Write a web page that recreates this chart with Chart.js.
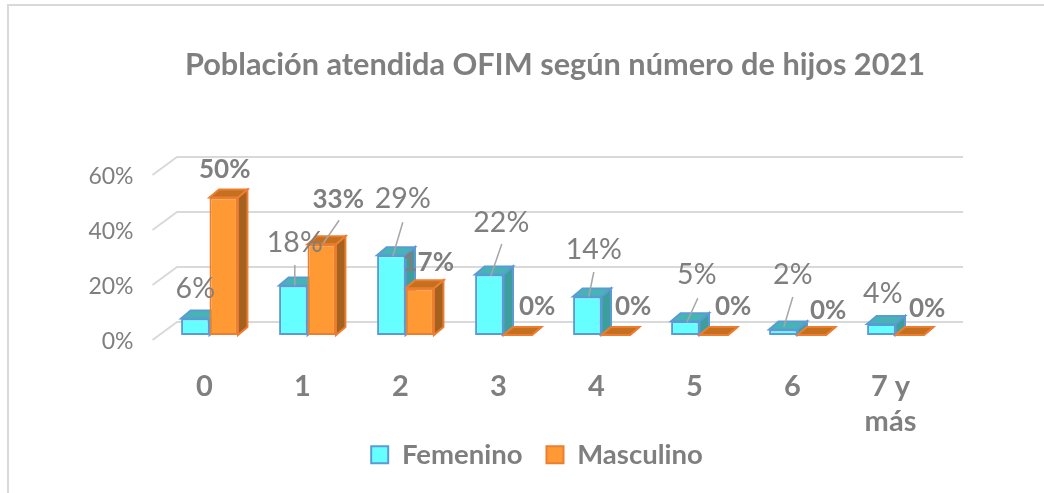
<!DOCTYPE html>
<html>
<head>
<meta charset="utf-8">
<title>Población atendida OFIM</title>
<script src="https://cdn.jsdelivr.net/npm/chart.js@4/dist/chart.umd.js"></script>
<style>
    html, body { margin: 0; padding: 0; background: #fff; overflow: hidden; }
    #frame { position: absolute; left: 7px; top: 4px; width: 1037px; height: 489px; border-left: 2px solid #d9d9d9; border-top: 2px solid #d9d9d9; }
    #chart { position: absolute; left: 0; top: 0; }
</style>
</head>
<body>
<div id="frame"></div>
<canvas id="chart" width="1044" height="493"></canvas>
<script>
    // Data
    const categories = ['0', '1', '2', '3', '4', '5', '6', ['7 y', 'más']];
    const femenino = [6, 18, 29, 22, 14, 5, 2, 4];
    const masculino = [50, 33, 17, 0, 0, 0, 0, 0];
    const yTicks = [0, 20, 40, 60];

    // Hand placed data labels, relative to the top centre of each bar
    const femLabelPos = [[0, -30], [1.5, -42.5], [11.5, -56], [12, -52], [6.5, -47], [11.5, -46], [9.5, -54.5], [1.5, -30]];
    const mascLabelPos = [[1, -27.5], [16.5, -45], [8.5, -26], [19.5, -28], [17.5, -28], [19.5, -28], [16.5, -24], [17.5, -26]];
    // Leader lines: x1, y1, x2, y2 relative to the same point
    const femLeaders = [null, [1.5, -20.5, 1.5, 0], [11.5, -33, 1.5, 1], [12.5, -30.5, 1.5, 1.5], [6.5, -24.5, 1.5, 0], [12.5, -23, 1.5, 1], [9.5, -32.5, 0.5, -2.5], null];
    const mascLeaders = [null, [17.5, -24, 1.5, -1], null, null, null, null, null, null];

    const GRAY = '#7f7f7f';
    const FONT = 'Lato';
    const DEPTH_X = 9.5;
    const DEPTH_Y = 8;

    const faceColors = [
        { top: '#46b4b4', side: '#3d9e9e', line: '#5b9bd5' },
        { top: '#c4701f', side: '#a5621e', line: '#ed7d31' }
    ];

    function fillFace(ctx, pts, fill, line) {
        ctx.beginPath();
        pts.forEach((p, i) => i ? ctx.lineTo(p[0], p[1]) : ctx.moveTo(p[0], p[1]));
        ctx.closePath();
        ctx.fillStyle = fill;
        ctx.fill();
        ctx.lineWidth = 2;
        ctx.strokeStyle = line;
        ctx.stroke();
    }

    // Back wall grid and the top / side faces of the bars
    const depthPlugin = {
        id: 'depth',
        beforeDatasetsDraw(chart) {
            const ctx = chart.ctx;
            const area = chart.chartArea;
            const y = chart.scales.y;
            ctx.save();
            ctx.strokeStyle = '#d9d9d9';
            ctx.lineWidth = 2;
            y.ticks.forEach(t => {
                const py = y.getPixelForValue(t.value);
                ctx.beginPath();
                ctx.moveTo(area.left - 8, py + 5);
                ctx.lineTo(area.left + 16.5, py - 13);
                ctx.lineTo(area.right + 18.5, py - 13);
                ctx.stroke();
            });
            chart.data.datasets.forEach((ds, d) => {
                chart.getDatasetMeta(d).data.forEach(bar => {
                    const p = bar.getProps(['x', 'y', 'base', 'width'], true);
                    const x1 = p.x - p.width / 2;
                    const x2 = p.x + p.width / 2;
                    const c = faceColors[d];
                    fillFace(ctx, [[x2, p.y], [x2 + DEPTH_X, p.y - DEPTH_Y], [x2 + DEPTH_X, p.base - DEPTH_Y], [x2, p.base]], c.side, c.line);
                    fillFace(ctx, [[x1, p.y], [x1 + DEPTH_X, p.y - DEPTH_Y], [x2 + DEPTH_X, p.y - DEPTH_Y], [x2, p.y]], c.top, c.line);
                });
            });
            ctx.restore();
        }
    };

    const labelPlugin = {
        id: 'valueLabels',
        afterDatasetsDraw(chart) {
            const ctx = chart.ctx;
            const sets = [
                { pos: femLabelPos, leaders: femLeaders, values: femenino, font: '28.5px ' + FONT },
                { pos: mascLabelPos, leaders: mascLeaders, values: masculino, font: 'bold 26px ' + FONT }
            ];
            ctx.save();
            sets.forEach((s, d) => {
                chart.getDatasetMeta(d).data.forEach((bar, i) => {
                    const l = s.leaders[i];
                    if (l) {
                        ctx.beginPath();
                        ctx.moveTo(bar.x + l[0], bar.y + l[1]);
                        ctx.lineTo(bar.x + l[2], bar.y + l[3]);
                        ctx.strokeStyle = '#a6a6a6';
                        ctx.lineWidth = 1.5;
                        ctx.stroke();
                    }
                });
            });
            ctx.fillStyle = GRAY;
            ctx.textAlign = 'center';
            ctx.textBaseline = 'middle';
            sets.forEach((s, d) => {
                chart.getDatasetMeta(d).data.forEach((bar, i) => {
                    ctx.font = s.font;
                    ctx.fillText(s.values[i] + '%', bar.x + s.pos[i][0], bar.y + s.pos[i][1]);
                });
            });
            ctx.restore();
        }
    };

    // Title and legend are not centred on the plot in the original,
    // and the two line tick label needs room below the x scale box
    const placePlugin = {
        id: 'place',
        afterLayout(chart) {
            chart.titleBlock.left = 66;
            chart.titleBlock.right = 1044;
            chart.legend.left = 30;
            chart.legend.right = 1044;
            chart.legend.top = 417;
            chart.scales.x.bottom = 493;
        }
    };

    new Chart(document.getElementById('chart'), {
        type: 'bar',
        data: {
            labels: categories,
            datasets: [
                { label: 'Femenino', data: femenino, backgroundColor: '#66ffff', borderColor: faceColors[0].line, borderWidth: 2, borderSkipped: false },
                { label: 'Masculino', data: masculino, backgroundColor: '#ff9933', borderColor: faceColors[1].line, borderWidth: 2, borderSkipped: false }
            ]
        },
        options: {
            responsive: false,
            animation: false,
            layout: { padding: { left: 0, right: 99.5, top: 0, bottom: 0 } },
            datasets: { bar: { categoryPercentage: 0.58, barPercentage: 1 } },
            plugins: {
                tooltip: { enabled: false },
                title: {
                    display: true,
                    text: 'Población atendida OFIM según número de hijos 2021',
                    color: GRAY,
                    font: { family: FONT, size: 30.7, weight: 'bold', lineHeight: 1.2 },
                    padding: { top: 46.5, bottom: 86.7 }
                },
                legend: {
                    position: 'bottom',
                    labels: {
                        color: GRAY,
                        boxWidth: 17,
                        boxHeight: 17,
                        padding: 24,
                        font: { family: FONT, size: 27.5, weight: 'bold' }
                    }
                }
            },
            scales: {
                x: {
                    grid: { display: false, drawTicks: false },
                    border: { display: false },
                    ticks: {
                        color: GRAY,
                        padding: 34.5,
                        labelOffset: -5,
                        maxRotation: 0,
                        autoSkip: false,
                        font: { family: FONT, size: 29, weight: 'bold', lineHeight: 1.2 }
                    },
                    afterFit(scale) { scale.height = 96.5; }
                },
                y: {
                    min: 0,
                    max: 60,
                    afterBuildTicks(scale) { scale.ticks = yTicks.map(v => ({ value: v })); },
                    grid: { display: false, drawTicks: false },
                    border: { display: false },
                    ticks: {
                        color: GRAY,
                        padding: 27,
                        labelOffset: 7,
                        font: { family: FONT, size: 23 },
                        callback: v => v + '%'
                    },
                    afterFit(scale) { scale.width = 160.5; }
                }
            }
        },
        plugins: [depthPlugin, labelPlugin, placePlugin]
    });
</script>
</body>
</html>
